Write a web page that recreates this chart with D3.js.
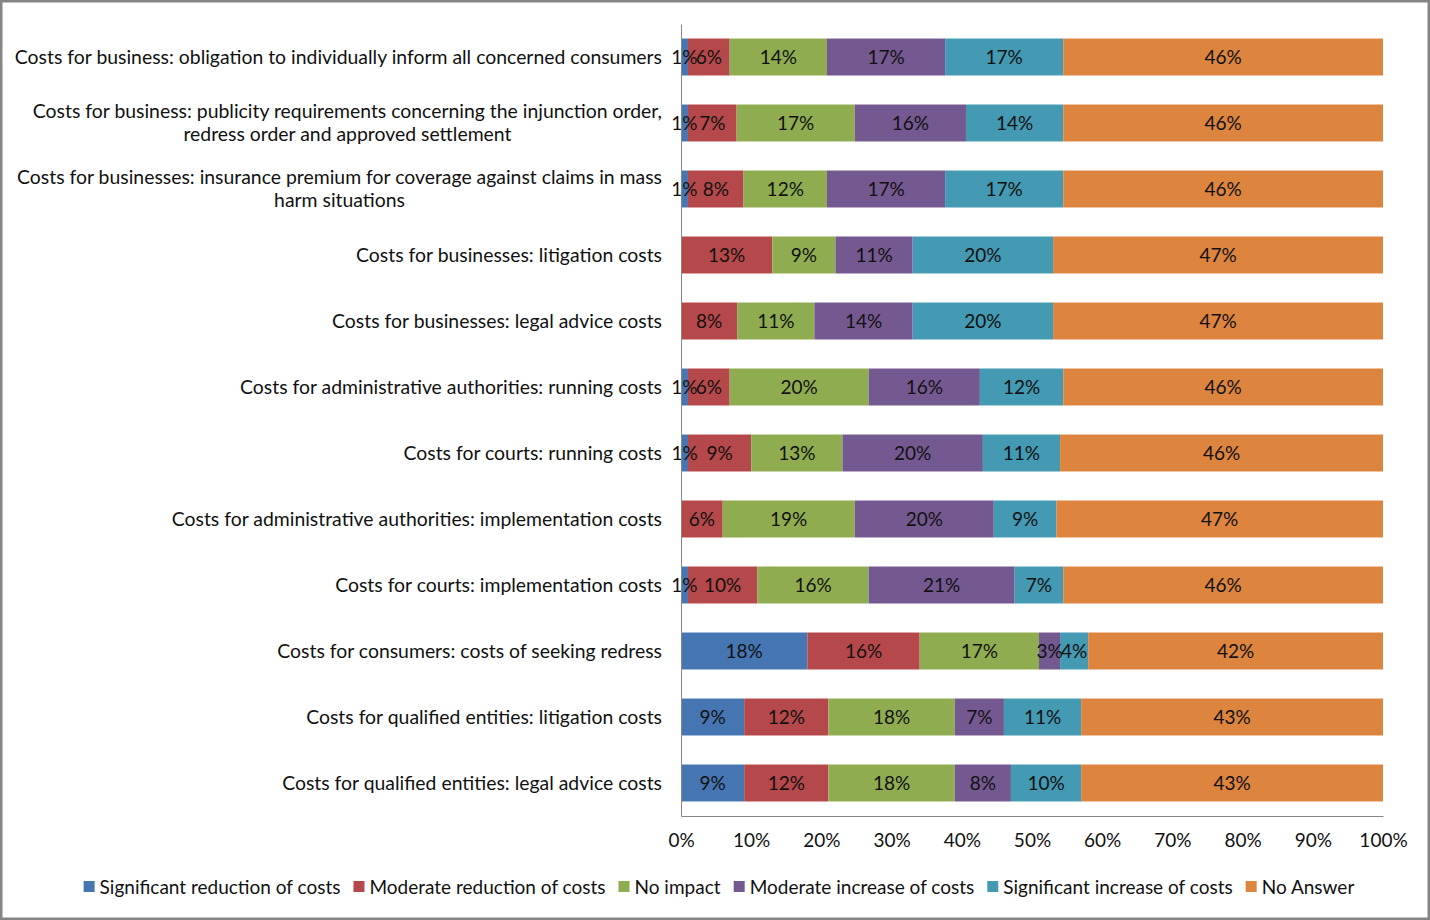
<!DOCTYPE html>
<html>
<head>
<meta charset="utf-8">
<script src="https://cdn.jsdelivr.net/npm/d3@7"></script>
<style>
  body { margin: 0; background: #fff; }
  text { font-family: Lato, "Open Sans", sans-serif; fill: #111; }
</style>
</head>
<body>
<script>
// categories, top to bottom; "\n" marks the line break used in the chart
const categories = [
  "Costs for business: obligation to individually inform all concerned consumers",
  "Costs for business: publicity requirements concerning the injunction order,\nredress order and approved settlement",
  "Costs for businesses: insurance premium for coverage against claims in mass\nharm situations",
  "Costs for businesses: litigation costs",
  "Costs for businesses: legal advice costs",
  "Costs for administrative authorities: running costs",
  "Costs for courts: running costs",
  "Costs for administrative authorities: implementation costs",
  "Costs for courts: implementation costs",
  "Costs for consumers: costs of seeking redress",
  "Costs for qualified entities: litigation costs",
  "Costs for qualified entities: legal advice costs"
];

const seriesNames = [
  "Significant reduction of costs",
  "Moderate reduction of costs",
  "No impact",
  "Moderate increase of costs",
  "Significant increase of costs",
  "No Answer"
];

// percentages per series, in the order of categories
const sigReduction = [1, 1, 1, 0, 0, 1, 1, 0, 1, 18, 9, 9];
const modReduction = [6, 7, 8, 13, 8, 6, 9, 6, 10, 16, 12, 12];
const noImpact     = [14, 17, 12, 9, 11, 20, 13, 19, 16, 17, 18, 18];
const modIncrease  = [17, 16, 17, 11, 14, 16, 20, 20, 21, 3, 7, 8];
const sigIncrease  = [17, 14, 17, 20, 20, 12, 11, 9, 7, 4, 11, 10];
const noAnswer     = [46, 46, 46, 47, 47, 46, 46, 47, 46, 42, 43, 43];

const xTicks = [0, 0.1, 0.2, 0.3, 0.4, 0.5, 0.6, 0.7, 0.8, 0.9, 1];

const colors = ["#4676b2", "#b5484a", "#8fad50", "#745890", "#4499b3", "#dd843f"];

const width = 1430, height = 920;
const margin = {top: 24, right: 47, bottom: 104, left: 681};

const table = categories.map((c, i) => {
  const row = {category: c};
  [sigReduction, modReduction, noImpact, modIncrease, sigIncrease, noAnswer]
    .forEach((arr, j) => row[seriesNames[j]] = arr[i]);
  return row;
});

const stacked = d3.stack()
  .keys(seriesNames)
  .offset(d3.stackOffsetExpand)(table);

const x = d3.scaleLinear()
  .domain([0, 1])
  .range([margin.left, width - margin.right]);

const y = d3.scaleBand()
  .domain(categories)
  .range([margin.top, height - margin.bottom])
  .paddingInner(0.44)
  .paddingOuter(0.22);

const color = d3.scaleOrdinal().domain(seriesNames).range(colors);

const svg = d3.select("body").append("svg")
  .attr("width", width)
  .attr("height", height);

// chart frame
svg.append("rect")
  .attr("x", 1.25).attr("y", 1.25)
  .attr("width", width - 2.5).attr("height", height - 2.5)
  .attr("fill", "#fff")
  .attr("stroke", "#858585")
  .attr("stroke-width", 2.5);

// bars
svg.append("g")
  .selectAll("g")
  .data(stacked)
  .join("g")
    .attr("fill", d => color(d.key))
  .selectAll("rect")
  .data(d => d)
  .join("rect")
    .attr("x", d => x(d[0]))
    .attr("y", d => y(d.data.category))
    .attr("width", d => x(d[1]) - x(d[0]))
    .attr("height", y.bandwidth());

// data labels, drawn on top of every bar so small ones can spill over
const labels = stacked.flatMap(s => s.map(v => ({v, key: s.key})))
  .filter(d => d.v.data[d.key] > 0);

svg.append("g")
  .selectAll("text")
  .data(labels)
  .join("text")
    .attr("x", d => (x(d.v[0]) + x(d.v[1])) / 2)
    .attr("y", d => y(d.v.data.category) + y.bandwidth() / 2)
    .attr("dy", "0.36em")
    .attr("text-anchor", "middle")
    .attr("font-size", 19)
    .attr("fill", "#1a1a1a")
    .text(d => d.v.data[d.key] + "%");

// x axis
svg.append("g")
  .attr("transform", `translate(0,${height - margin.bottom})`)
  .call(d3.axisBottom(x).tickValues(xTicks).tickFormat(d3.format(".0%")).tickSize(0).tickPadding(18))
  .call(g => g.select(".domain").attr("stroke", "#868686"))
  .call(g => g.selectAll(".tick text").attr("font-size", 19).attr("fill", "#111"));

// y axis
const yAxis = svg.append("g")
  .attr("transform", `translate(${margin.left},0)`)
  .call(d3.axisLeft(y).tickSize(0).tickPadding(19))
  .call(g => g.select(".domain").attr("stroke", "#868686"));

yAxis.selectAll(".tick text")
  .attr("font-size", 19.4)
  .attr("fill", "#111")
  .each(function(d) {
    const lines = d.split("\n");
    const t = d3.select(this).text(null).attr("dy", null);
    if (lines.length === 1) {
      t.attr("dy", "0.36em").text(lines[0]);
      return;
    }
    // measure the longest line, then center every line on it
    const probe = t.append("tspan").text(lines[0]);
    const w = d3.max(lines, l => { probe.text(l); return probe.node().getComputedTextLength(); });
    probe.remove();
    const cx = -19 - w / 2;
    t.attr("text-anchor", "middle");
    lines.forEach((l, i) => {
      t.append("tspan")
        .attr("x", cx)
        .attr("y", (i - (lines.length - 1) / 2) * 23)
        .attr("dy", "0.36em")
        .text(l);
    });
  });

// legend
const legend = svg.append("g").attr("transform", `translate(0,${height - 33})`);
const items = legend.selectAll("g")
  .data(seriesNames)
  .join("g");
items.append("rect")
  .attr("width", 11).attr("height", 11)
  .attr("y", -6)
  .attr("fill", d => color(d));
items.append("text")
  .attr("x", 16)
  .attr("dy", "0.36em")
  .attr("font-size", 19)
  .text(d => d);

const widths = [];
items.each(function() { widths.push(this.getBBox().width); });
const gap = 13;
const total = d3.sum(widths) + gap * (widths.length - 1);
let cursor = 719 - total / 2;
items.attr("transform", (d, i) => {
  const tx = cursor;
  cursor += widths[i] + gap;
  return `translate(${tx},0)`;
});
</script>
</body>
</html>
